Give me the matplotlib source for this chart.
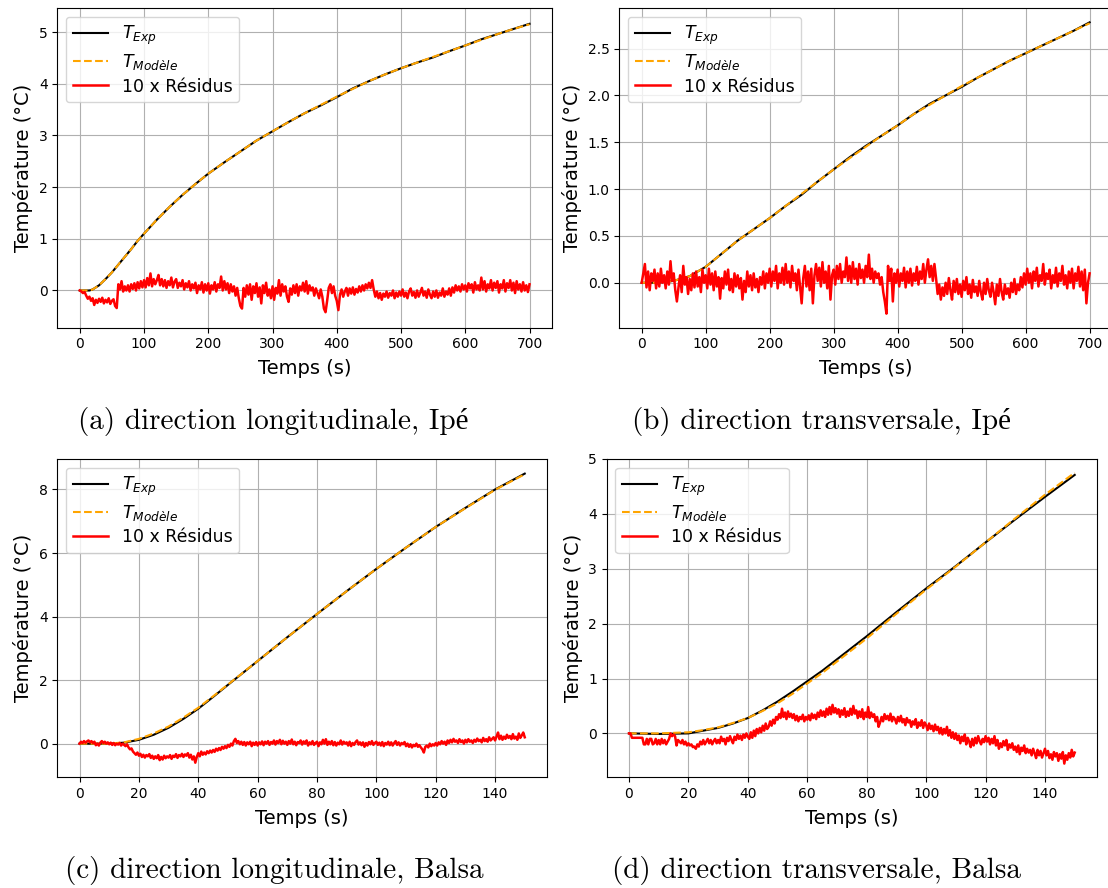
import numpy as np
import matplotlib
matplotlib.use('Agg')
import matplotlib.pyplot as plt

FIG_W, FIG_H = 1108, 888

# ---- (a) longitudinal, Ipe ----
t_curve_a = [0, 15, 20, 30, 40, 50, 60, 70, 80, 90, 100, 120, 140, 160, 180, 200, 225, 250,
             275, 300, 325, 350, 375, 400, 425, 450, 475, 500, 525, 550, 575, 600, 625, 650, 675, 700]
T_exp_a = [0.0, 0.0, 0.02, 0.1, 0.22, 0.35, 0.5, 0.65, 0.8, 0.96, 1.1, 1.37, 1.62, 1.85, 2.06, 2.26, 2.48, 2.69,
           2.9, 3.08, 3.26, 3.43, 3.58, 3.74, 3.91, 4.05, 4.18, 4.3, 4.41, 4.51, 4.63, 4.74, 4.86, 4.96, 5.06, 5.16]
T_mod_a = [0.0, 0.0, 0.02, 0.1, 0.22, 0.35, 0.5, 0.65, 0.8, 0.96, 1.1, 1.37, 1.62, 1.85, 2.06, 2.26, 2.48, 2.69,
           2.9, 3.08, 3.26, 3.43, 3.59, 3.75, 3.9, 4.05, 4.18, 4.3, 4.41, 4.52, 4.63, 4.74, 4.85, 4.96, 5.06, 5.15]
res_a = [0.0, -0.02, -0.05, -0.03, -0.1, -0.16, -0.12, -0.2, -0.15, -0.28,
         -0.18, -0.24, -0.16, -0.22, -0.14, -0.25, -0.18, -0.23, -0.15, -0.26,
         -0.2, -0.17, -0.3, -0.34, 0.12, 0.02, 0.18, -0.02, 0.08, 0.0,
         0.1, -0.02, 0.12, 0.03, 0.14, 0.0, 0.16, 0.04, 0.18, 0.06,
         0.2, 0.06, 0.24, 0.1, 0.33, 0.08, 0.22, 0.12, 0.2, 0.3,
         0.1, 0.22, 0.08, 0.2, 0.05, 0.18, 0.1, 0.25, 0.06, 0.17,
         0.22, 0.05, 0.15, 0.08, 0.2, 0.02, 0.14, 0.06, 0.18, 0.0,
         0.12, 0.04, 0.15, -0.05, 0.1, 0.02, 0.16, -0.04, 0.12, 0.0,
         0.14, -0.06, 0.1, 0.02, 0.16, -0.02, 0.12, 0.05, 0.27, 0.0,
         0.18, 0.02, 0.14, -0.05, 0.12, -0.02, 0.08, -0.1, 0.05, -0.15,
         -0.3, -0.35, 0.05, -0.12, 0.1, -0.08, 0.12, -0.18, 0.08, -0.05,
         0.14, -0.12, 0.06, -0.25, 0.1, -0.05, 0.15, -0.1, 0.02, -0.15,
         0.08, -0.18, 0.05, -0.06, 0.2, -0.1, 0.12, -0.02, 0.08, -0.12,
         -0.22, 0.04, -0.08, 0.1, -0.05, 0.12, -0.1, 0.08, 0.0, 0.15,
         -0.02, 0.18, -0.06, 0.1, 0.0, 0.06, -0.1, 0.04, -0.05, -0.15,
         0.02, -0.12, -0.35, -0.42, -0.2, 0.05, 0.12, -0.05, 0.08, -0.1,
         -0.2, -0.38, -0.08, 0.02, -0.12, -0.02, 0.05, -0.1, 0.04, -0.06,
         0.06, -0.08, 0.03, -0.04, 0.08, -0.02, 0.1, 0.0, 0.12, 0.04,
         0.15, 0.05, 0.2, 0.02, -0.12, -0.02, -0.15, -0.05, -0.18, -0.06,
         -0.12, -0.02, -0.14, -0.05, -0.1, 0.0, -0.15, -0.04, -0.12, -0.02,
         -0.1, 0.02, -0.12, -0.04, -0.15, -0.02, 0.04, -0.1, -0.03, -0.14,
         0.0, -0.12, -0.04, 0.05, -0.1, -0.02, -0.14, 0.02, -0.08, -0.15,
         -0.02, -0.12, 0.0, -0.14, -0.04, -0.1, 0.04, -0.12, -0.02, -0.08,
         0.04, -0.1, 0.06, -0.04, 0.1, 0.0, 0.08, -0.02, 0.12, 0.02,
         0.1, -0.02, 0.14, 0.04, 0.12, -0.04, 0.16, 0.02, 0.1, 0.0,
         0.25, 0.02, 0.18, -0.02, 0.12, 0.04, 0.2, 0.0, 0.15, 0.05,
         0.18, -0.04, 0.12, 0.04, 0.2, -0.02, 0.14, 0.05, 0.2, 0.0,
         0.15, -0.05, 0.18, 0.02, 0.12, -0.02, 0.16, 0.0, 0.1, -0.03,
         0.12]

# ---- (b) transverse, Ipe ----
t_curve_b = [0, 25, 50, 75, 100, 125, 150, 175, 200, 225, 250, 275, 300, 325, 350, 375, 400,
             425, 450, 475, 500, 525, 550, 575, 600, 625, 650, 675, 700]
T_exp_b = [0.0, 0.0, 0.02, 0.07, 0.17, 0.31, 0.45, 0.57, 0.69, 0.82, 0.94, 1.08, 1.21, 1.34, 1.46, 1.57, 1.68,
           1.8, 1.91, 2.0, 2.09, 2.19, 2.28, 2.37, 2.45, 2.53, 2.61, 2.69, 2.78]
T_mod_b = [0.0, 0.0, 0.02, 0.07, 0.17, 0.31, 0.45, 0.57, 0.69, 0.82, 0.95, 1.08, 1.21, 1.33, 1.45, 1.57, 1.68,
           1.8, 1.9, 2.0, 2.1, 2.19, 2.28, 2.37, 2.45, 2.53, 2.61, 2.69, 2.77]
res_b = [0.0, 0.1, 0.2, -0.05, 0.12, -0.08, 0.1, 0.02, 0.14, -0.06,
         0.1, -0.04, 0.15, 0.0, 0.08, -0.06, 0.12, -0.02, 0.23, 0.02,
         0.1, -0.08, -0.2, -0.05, 0.08, -0.1, 0.18, -0.02, 0.06, -0.12,
         0.04, -0.08, 0.1, -0.05, 0.12, -0.04, 0.06, -0.1, 0.14, 0.0,
         0.08, -0.06, 0.15, -0.02, 0.1, -0.08, 0.12, -0.04, 0.06, -0.17,
         0.05, -0.06, 0.12, -0.02, 0.14, -0.08, 0.04, -0.1, 0.1, -0.04,
         0.08, -0.06, 0.05, -0.18, 0.02, -0.1, 0.12, -0.04, 0.08, -0.08,
         0.1, -0.05, 0.04, -0.1, 0.06, -0.02, 0.12, -0.06, 0.1, 0.0,
         0.15, -0.04, 0.12, 0.02, 0.18, -0.06, 0.1, 0.0, 0.16, -0.02,
         0.2, 0.0, 0.12, -0.05, 0.18, 0.02, 0.1, -0.08, 0.14, -0.04,
         -0.22, 0.05, 0.18, -0.04, 0.12, -0.08, 0.15, -0.22, 0.08, 0.2,
         0.02, 0.16, -0.04, 0.22, 0.0, 0.12, -0.06, 0.18, -0.18, 0.08,
         0.14, -0.02, 0.18, 0.04, 0.2, 0.0, 0.12, 0.06, 0.27, 0.02,
         0.18, 0.0, 0.22, 0.04, 0.15, -0.02, 0.2, 0.05, 0.14, 0.0,
         0.18, 0.06, 0.3, 0.04, 0.15, 0.0, 0.12, 0.05, 0.1, -0.02,
         0.06, -0.1, -0.2, -0.33, 0.18, 0.02, 0.15, -0.2, 0.1, 0.0,
         0.14, -0.04, 0.1, 0.02, 0.16, -0.05, 0.12, 0.0, 0.15, -0.03,
         0.1, 0.02, 0.17, -0.02, 0.12, 0.04, 0.2, 0.0, 0.14, 0.25,
         0.06, 0.18, 0.02, 0.2, 0.05, -0.12, -0.02, -0.18, -0.05, -0.14,
         0.0, -0.12, 0.05, -0.08, -0.18, 0.02, -0.1, 0.04, -0.12, -0.02,
         -0.15, 0.02, -0.08, 0.06, -0.12, -0.02, -0.16, 0.03, -0.1, -0.04,
         -0.14, 0.02, -0.1, -0.18, 0.0, -0.12, 0.04, -0.08, -0.15, 0.0,
         -0.1, -0.23, -0.02, -0.14, 0.04, -0.1, -0.18, -0.02, -0.12, -0.06,
         -0.16, 0.0, -0.1, 0.04, -0.12, -0.02, -0.08, 0.06, -0.05, 0.1,
         -0.02, 0.15, 0.0, 0.1, -0.06, 0.12, 0.02, 0.16, -0.04, 0.08,
         0.02, 0.2, -0.02, 0.1, 0.04, 0.14, -0.06, 0.08, 0.0, 0.16,
         -0.04, 0.1, 0.02, 0.18, -0.02, 0.08, -0.06, 0.12, 0.0, 0.15,
         -0.06, 0.1, 0.02, 0.17, -0.04, 0.12, -0.08, 0.14, -0.22, 0.0,
         0.1]

# ---- (c) longitudinal, Balsa ----
t_curve_c = [0, 5, 10, 15, 20, 25, 30, 35, 40, 45, 50, 60, 70, 80, 90, 100, 110, 120, 130, 140, 150]
T_exp_c = [0.0, 0.0, 0.0, 0.03, 0.12, 0.28, 0.5, 0.78, 1.1, 1.47, 1.85, 2.6, 3.35, 4.08, 4.8, 5.5,
           6.17, 6.82, 7.42, 8.0, 8.5]
T_mod_c = [0.0, 0.0, 0.0, 0.04, 0.15, 0.32, 0.54, 0.82, 1.13, 1.49, 1.86, 2.6, 3.35, 4.08, 4.8, 5.5,
           6.17, 6.82, 7.41, 7.99, 8.48]
res_c = [0.0, 0.06, 0.02, 0.08, 0.03, 0.07, 0.1, 0.04, 0.08, 0.02,
         0.06, -0.05, 0.0, -0.06, 0.03, 0.08, 0.02, 0.06, 0.0, 0.04,
         -0.02, 0.03, -0.04, 0.02, -0.05, 0.0, -0.03, 0.02, -0.06, 0.0,
         -0.04, -0.08, -0.02, -0.12, -0.18, -0.15, -0.25, -0.3, -0.35, -0.28,
         -0.38, -0.32, -0.42, -0.35, -0.44, -0.36, -0.4, -0.33, -0.45, -0.38,
         -0.48, -0.4, -0.46, -0.36, -0.52, -0.42, -0.5, -0.38, -0.46, -0.4,
         -0.44, -0.36, -0.48, -0.38, -0.42, -0.33, -0.45, -0.36, -0.4, -0.32,
         -0.42, -0.34, -0.38, -0.3, -0.44, -0.35, -0.5, -0.4, -0.6, -0.42,
         -0.3, -0.4, -0.25, -0.35, -0.28, -0.34, -0.24, -0.3, -0.22, -0.28,
         -0.2, -0.26, -0.16, -0.22, -0.14, -0.2, -0.1, -0.16, -0.08, -0.14,
         -0.04, -0.1, 0.0, -0.06, 0.08, 0.15, 0.02, 0.08, -0.02, 0.06,
         -0.04, 0.05, -0.06, 0.04, -0.02, 0.06, -0.08, 0.03, -0.04, 0.05,
         -0.06, 0.04, -0.02, 0.07, -0.05, 0.06, 0.0, 0.08, -0.04, 0.05,
         0.0, 0.1, -0.03, 0.08, 0.02, 0.12, -0.02, 0.09, 0.0, 0.06,
         -0.04, 0.08, 0.0, 0.13, -0.02, 0.06, -0.05, 0.05, 0.02, 0.1,
         -0.03, 0.07, 0.0, 0.1, -0.06, 0.04, -0.02, 0.08, -0.04, 0.02,
         0.06, -0.08, 0.04, -0.02, 0.12, 0.0, 0.14, -0.04, 0.06, -0.02,
         0.08, -0.05, 0.05, -0.06, 0.03, -0.02, 0.1, -0.03, 0.06, 0.0,
         0.04, -0.06, 0.06, -0.08, 0.02, -0.04, 0.05, 0.1, -0.03, 0.04,
         -0.05, 0.04, -0.1, 0.02, -0.06, 0.05, -0.02, 0.08, -0.04, 0.02,
         0.06, -0.04, 0.03, -0.06, 0.05, -0.08, 0.02, -0.03, 0.06, -0.05,
         0.04, -0.06, 0.02, 0.08, -0.04, 0.04, -0.06, 0.02, -0.02, 0.05,
         -0.08, 0.0, -0.1, -0.02, -0.12, -0.04, -0.08, 0.0, -0.1, -0.05,
         -0.12, -0.18, -0.28, -0.1, -0.06, -0.12, 0.0, -0.08, -0.02, -0.06,
         0.02, -0.06, 0.04, -0.02, 0.08, 0.0, 0.06, -0.04, 0.1, 0.02,
         0.12, 0.04, 0.15, 0.06, 0.1, 0.02, 0.14, 0.05, 0.1, 0.0,
         0.12, 0.04, 0.14, 0.06, 0.1, 0.02, 0.12, 0.06, 0.16, 0.08,
         0.12, 0.04, 0.18, 0.08, 0.14, 0.06, 0.2, 0.1, 0.15, 0.2,
         0.1, 0.22, 0.35, 0.14, 0.25, 0.12, 0.22, 0.15, 0.28, 0.18,
         0.24, 0.14, 0.3, 0.16, 0.22, 0.12, 0.32, 0.18, 0.26, 0.35,
         0.2]

# ---- (d) transverse, Balsa ----
t_curve_d = [0, 10, 20, 25, 30, 35, 40, 45, 50, 55, 60, 65, 70, 80, 90, 100, 110, 120, 130, 140, 150]
T_exp_d = [0.0, -0.01, 0.0, 0.05, 0.1, 0.18, 0.28, 0.42, 0.58, 0.76, 0.95, 1.14, 1.35, 1.77, 2.21, 2.64,
           3.05, 3.48, 3.9, 4.31, 4.71]
T_mod_d = [0.0, 0.0, 0.02, 0.06, 0.11, 0.19, 0.28, 0.41, 0.55, 0.72, 0.91, 1.1, 1.31, 1.73, 2.18, 2.62,
           3.04, 3.48, 3.92, 4.35, 4.75]
res_d = [0.0, 0.0, -0.08, -0.08, -0.08, -0.08, -0.08, -0.08, -0.08, -0.08,
         -0.2, -0.2, -0.1, -0.2, -0.1, -0.1, -0.2, -0.18, -0.1, -0.2,
         -0.12, -0.2, -0.1, -0.18, -0.12, -0.2, -0.15, -0.1, 0.0, -0.05,
         -0.02, -0.05, -0.22, -0.12, -0.15, -0.18, -0.12, -0.2, -0.15, -0.22,
         -0.18, -0.22, -0.2, -0.25, -0.24, -0.28, -0.2, -0.24, -0.15, -0.2,
         -0.12, -0.2, -0.15, -0.1, -0.18, -0.12, -0.2, -0.14, -0.1, -0.18,
         -0.12, -0.18, -0.06, -0.14, -0.1, -0.2, -0.08, -0.14, -0.05, -0.12,
         -0.18, -0.06, -0.12, -0.02, -0.1, -0.04, -0.12, -0.02, -0.08, 0.0,
         -0.06, -0.1, 0.02, -0.08, 0.05, -0.05, 0.08, 0.0, 0.1, 0.02,
         0.14, 0.05, 0.18, 0.08, 0.12, 0.22, 0.14, 0.25, 0.18, 0.3,
         0.25, 0.35, 0.28, 0.45, 0.3, 0.38, 0.26, 0.4, 0.3, 0.36,
         0.28, 0.35, 0.24, 0.32, 0.22, 0.3, 0.26, 0.34, 0.22, 0.3,
         0.25, 0.33, 0.24, 0.36, 0.28, 0.34, 0.26, 0.38, 0.3, 0.42,
         0.32, 0.4, 0.3, 0.45, 0.34, 0.48, 0.35, 0.52, 0.38, 0.46,
         0.36, 0.44, 0.3, 0.42, 0.34, 0.46, 0.3, 0.4, 0.32, 0.45,
         0.34, 0.5, 0.36, 0.42, 0.28, 0.4, 0.3, 0.44, 0.26, 0.38,
         0.3, 0.48, 0.28, 0.38, 0.3, 0.35, 0.22, 0.3, 0.12, 0.2,
         0.3, 0.22, 0.35, 0.26, 0.32, 0.24, 0.36, 0.22, 0.3, 0.26,
         0.18, 0.3, 0.22, 0.32, 0.2, 0.26, 0.15, 0.28, 0.2, 0.24,
         0.12, 0.22, 0.16, 0.26, 0.1, 0.2, 0.14, 0.24, 0.1, 0.2,
         0.15, 0.06, 0.18, 0.08, 0.14, 0.04, 0.16, 0.06, 0.12, 0.0,
         0.1, -0.02, 0.08, 0.0, 0.12, -0.04, 0.06, -0.08, 0.02, -0.1,
         0.0, -0.12, -0.04, -0.18, -0.06, -0.14, -0.02, -0.2, -0.08, -0.15,
         -0.25, -0.1, -0.22, -0.08, -0.18, -0.05, -0.14, -0.2, -0.1, -0.16,
         -0.05, -0.15, -0.08, -0.2, -0.1, -0.18, -0.05, -0.22, -0.12, -0.28,
         -0.18, -0.25, -0.14, -0.22, -0.12, -0.3, -0.2, -0.26, -0.18, -0.3,
         -0.24, -0.34, -0.22, -0.38, -0.26, -0.32, -0.22, -0.36, -0.28, -0.35,
         -0.3, -0.4, -0.28, -0.36, -0.45, -0.3, -0.4, -0.32, -0.44, -0.36,
         -0.28, -0.4, -0.32, -0.45, -0.38, -0.48, -0.34, -0.42, -0.36, -0.5,
         -0.38, -0.46, -0.34, -0.55, -0.4, -0.48, -0.36, -0.44, -0.3, -0.42,
         -0.35]

captions = ['(a) direction longitudinale, Ipé',
            '(b) direction transversale, Ipé',
            '(c) direction longitudinale, Balsa',
            '(d) direction transversale, Balsa']

panels = [
    (t_curve_a, T_exp_a, T_mod_a, res_a, 700, (-0.72, 5.46)),
    (t_curve_b, T_exp_b, T_mod_b, res_b, 700, (-0.48, 2.93)),
    (t_curve_c, T_exp_c, T_mod_c, res_c, 150, (-1.06, 8.96)),
    (t_curve_d, T_exp_d, T_mod_d, res_d, 150, (-0.80, 5.0)),
]

# axes boxes in pixels: left, right, top, bottom
boxes = [(57.3, 552, 8.3, 327.7), (619.3, 1112, 8.3, 327.7),
         (57.3, 547, 459, 777.3), (606.7, 1097, 459, 777.3)]
caption_pos = [(273, 421), (821, 421), (274, 870), (816, 870)]

fig = plt.figure(figsize=(FIG_W / 100, FIG_H / 100), dpi=100)

for i, (t_c, T_exp, T_mod, res, t_end, ylim) in enumerate(panels):
    l, r, top, b = boxes[i]
    ax = fig.add_axes([l / FIG_W, 1 - b / FIG_H, (r - l) / FIG_W, (b - top) / FIG_H])

    t_res = np.linspace(0, t_end, len(res))
    ax.plot(t_c, T_exp, color='black', linewidth=1.5, label=r'$T_{Exp}$')
    ax.plot(t_c, T_mod, color='orange', linestyle='--', linewidth=1.5, label=r'$T_{Modèle}$')
    ax.plot(t_res, res, color='red', linewidth=1.8, label='10 x Résidus')

    ax.set_xlim(-0.05 * t_end, 1.05 * t_end)
    ax.set_ylim(*ylim)
    ax.grid(True)
    ax.tick_params(axis='both', labelsize=10)
    ax.set_xlabel('Temps (s)', fontsize=14, labelpad=5.5)
    ax.set_ylabel('Température (°C)', fontsize=14)
    ax.legend(loc='upper left', fontsize=12.5, labelspacing=0.3)

    cx, cy = caption_pos[i]
    # cmr10 has no accented letters, so é falls back to a serif family
    fig.text(cx / FIG_W, 1 - cy / FIG_H, captions[i], ha='center', va='center',
             family=['cmr10', 'Liberation Serif'], fontsize=21)

fig.savefig('out.png', dpi=100)
